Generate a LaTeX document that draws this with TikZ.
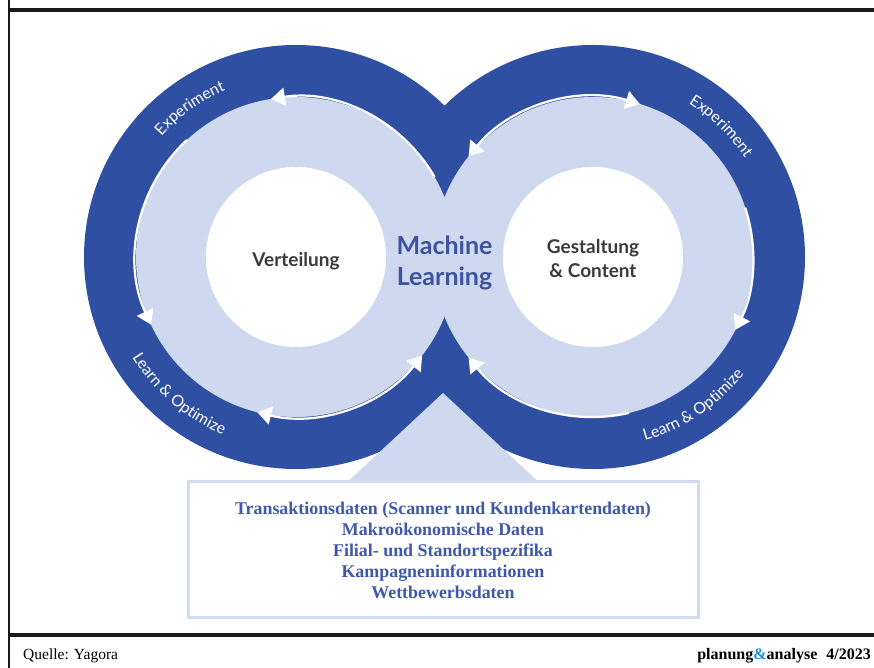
\documentclass[tikz,border=0pt]{standalone}
\usepackage{fontspec}
\setmainfont{Liberation Serif}
\newfontfamily\lato{Lato}
\usetikzlibrary{arrows.meta,decorations.text}
\definecolor{dk}{RGB}{47,79,162}
\definecolor{lt}{RGB}{206,216,239}
\definecolor{mltxt}{RGB}{60,84,158}
\definecolor{gtxt}{RGB}{58,58,62}
\definecolor{boxtxt}{RGB}{62,88,172}
\definecolor{boxb}{RGB}{210,220,240}
\definecolor{amp}{RGB}{30,140,210}
\newcommand\ringfont{\lato\fontsize{15.8}{15.8}\selectfont}
\tikzset{
  wtip/.tip={Triangle[width=18pt,length=14pt]},
  wline/.style={draw=white, line width=2.2pt},
  frameline/.style={draw=black!90},
  centertxt/.style={font=\lato\bfseries\fontsize{19}{24}\selectfont, text=gtxt, align=center},
}
\begin{document}
\begin{tikzpicture}[x=1pt,y=1pt]
\useasboundingbox (0,0) rectangle (874,668);
\fill[white] (0,0) rectangle (874,668);
\coordinate (L) at (296,411);
\coordinate (R) at (593,411);
% dark outer discs
\fill[dk] (L) circle[radius=212pt];
\fill[dk] (R) circle[radius=212pt];
% light pointer triangle
\fill[lt] (443,275) -- (341,180) -- (545,180) -- cycle;
% light discs
\fill[lt] (L) circle[radius=160pt];
\fill[lt] (R) circle[radius=160pt];
% white centres
\fill[white] (L) circle[radius=90pt];
\fill[white] (R) circle[radius=90pt];
% white arrows, left ring
\draw[wline,-wtip] (L) ++(30:160pt) arc[start angle=30, end angle=99, radius=160pt];
\draw[wline,-wtip] (L) ++(133:160pt) arc[start angle=133, end angle=205, radius=160pt];
\draw[wline,wtip-wtip] (L) ++(256:160pt) arc[start angle=256, end angle=322, radius=160pt];
% white arrows, right ring
\draw[wline,wtip-wtip] (R) ++(73:160pt) arc[start angle=73, end angle=141, radius=160pt];
\draw[wline,-wtip] (R) ++(18:160pt) arc[start angle=18, end angle=-27, radius=160pt];
\draw[wline,-wtip] (R) ++(283:160pt) arc[start angle=283, end angle=219, radius=160pt];
% ring labels
\path[decorate, decoration={text along path, text align=center, text color=white,
  text={|\ringfont|Experiment}}]
  (L) ++(150:181pt) arc[start angle=150, end angle=101, radius=181pt];
\path[decorate, decoration={text along path, text align=center, text color=white,
  text={|\ringfont|Experiment}}]
  (R) ++(70:181pt) arc[start angle=70, end angle=21, radius=181pt];
\path[decorate, decoration={text along path, text align=center, text color=white,
  text={|\ringfont|Learn {\&} Optimize}}]
  (L) ++(195:192pt) arc[start angle=195, end angle=264, radius=192pt];
\path[decorate, decoration={text along path, text align=center, text color=white,
  text={|\ringfont|Learn {\&} Optimize}}]
  (R) ++(270:191pt) arc[start angle=270, end angle=338, radius=191pt];
% centre texts
\node[centertxt] (vert) at (296,407) {Verteilung};
\node[centertxt] (gest) at (593,409) {Gestaltung\\\& Content};
\node[font=\lato\bfseries\fontsize{25}{31}\selectfont, text=mltxt, align=center] (ml) at (444.5,405) {Machine\\Learning};
% data box
\node[draw=boxb, line width=3pt, fill=white, minimum width=510pt, minimum height=136pt,
  align=center, text=boxtxt, font=\bfseries\fontsize{17.9}{21}\selectfont] (data) at (443,118)
  {Transaktionsdaten (Scanner und Kundenkartendaten)\\Makroökonomische Daten\\Filial- und Standortspezifika\\Kampagneninformationen\\Wettbewerbsdaten};
% frame
\draw[frameline, line width=2pt] (9,0) -- (9,668);
\draw[frameline, line width=4pt] (8,657.7) -- (874,657.7);
\draw[frameline, line width=3.5pt] (8,33) -- (874,33);
% footer
\node[anchor=base west, inner sep=0pt, font=\fontsize{15.5}{18}\selectfont] (src) at (23,8) {Quelle: Yagora};
\node[anchor=base east, inner sep=0pt, font=\bfseries\fontsize{16}{18}\selectfont] (pub) at (871,8) {planung\textcolor{amp}{\&}analyse\hspace{9pt}4/2023};
\end{tikzpicture}
\end{document}
